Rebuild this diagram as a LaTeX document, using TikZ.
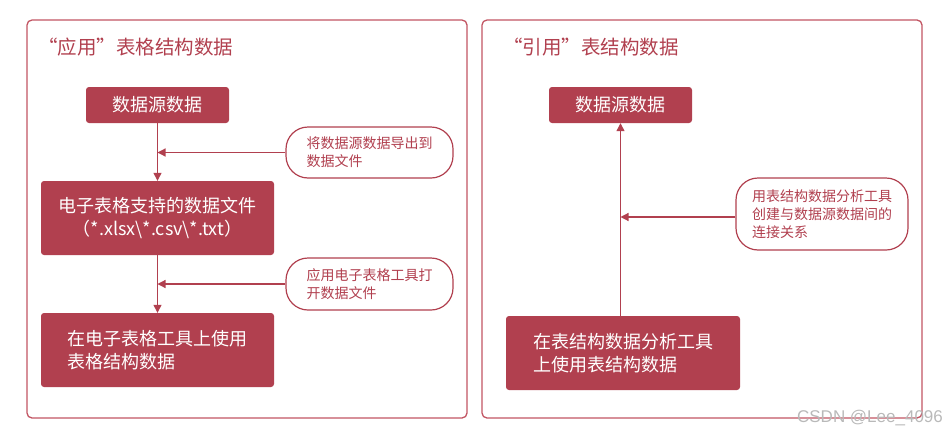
\documentclass[tikz,border=0pt]{standalone}
\usepackage{fontspec}
\setmainfont{Noto Sans CJK SC}
\newfontfamily\markfont{Liberation Sans}
\usetikzlibrary{arrows.meta}
\definecolor{datared}{HTML}{B1404F}
\definecolor{panelred}{HTML}{C25563}
\begin{document}
\begin{tikzpicture}[x=1pt,y=-1pt,
  panel/.style={draw=panelred,line width=1.3pt,rounded corners=5pt},
  heading/.style={text=datared,anchor=west,inner sep=0pt,font=\fontsize{19.5}{24}\selectfont},
  databox/.style={fill=datared,text=white,rounded corners=3pt,inner sep=0pt,align=left,font=\fontsize{18}{23}\selectfont},
  callout/.style={draw=datared,line width=1.2pt,fill=white,rounded corners=22pt,inner sep=0pt,text=datared,align=left,font=\fontsize{14}{18}\selectfont},
  flow/.style={draw=datared,line width=1.2pt,-{Triangle[length=8pt,width=8pt]}}]
\useasboundingbox (0,0) rectangle (947,434);
% two panels
\draw[panel] (27,20) rectangle (467,418);
\draw[panel] (482,20) rectangle (922,418);
\node[heading] (applyhead) at (38,47) {“应用”表格结构数据};
\node[heading] (refhead) at (503,47) {“引用”表结构数据};
% left panel
\node[databox,minimum width=143pt,minimum height=36pt] (src) at (157.5,105) {数据源数据};
\node[databox,minimum width=233pt,minimum height=74pt,align=center] (file) at (157.5,218) {电子表格支持的数据文件\\（*.xlsx\textbackslash*.csv\textbackslash*.txt）};
\node[databox,minimum width=233pt,minimum height=74pt] (sheet) at (157.5,350) {在电子表格工具上使用\\表格结构数据};
\node[callout,minimum width=167pt,minimum height=51pt] (export) at (369.5,152.5) {将数据源数据导出到\\数据文件};
\node[callout,minimum width=167pt,minimum height=52pt] (open) at (369.5,284) {应用电子表格工具打\\开数据文件};
\draw[flow] (src) -- (file);
\draw[flow] (file) -- (sheet);
\draw[flow] (export.west) -- (export.west -| src.south);
\draw[flow] (open.west) -- (open.west -| src.south);
% right panel
\node[databox,minimum width=143pt,minimum height=36pt] (refsrc) at (620.5,105) {数据源数据};
\node[databox,minimum width=234pt,minimum height=74pt] (tool) at (623,353) {在表结构数据分析工具\\上使用表结构数据};
\node[callout,minimum width=172pt,minimum height=72pt] (link) at (822,214) {用表结构数据分析工具\\创建与数据源数据间的\\连接关系};
\draw[flow] (tool.north -| refsrc.south) -- (refsrc.south);
\coordinate (linkin) at ([yshift=-3pt]link.west);
\draw[flow] (linkin) -- (linkin -| refsrc.south);
\node[text=gray!55,inner sep=0pt,font=\fontsize{17}{20}\markfont] (mark) at (870,418) {CSDN @Lee\_4096};
\end{tikzpicture}
\end{document}
